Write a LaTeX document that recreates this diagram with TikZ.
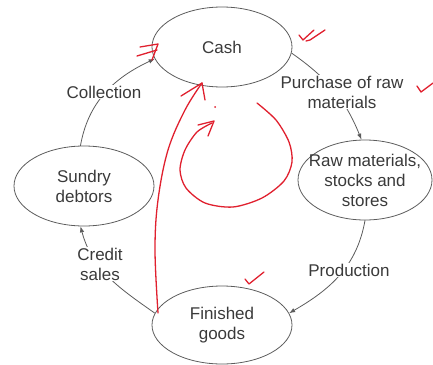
\documentclass[tikz,border=0pt]{standalone}
\usepackage{fontspec}
\setmainfont{Liberation Sans}
\usetikzlibrary{arrows.meta,shapes.geometric}
\definecolor{wcInk}{HTML}{3A3A3A}
\definecolor{wcLine}{HTML}{5C5C5C}
\definecolor{wcPen}{HTML}{E0202E}
\tikzset{
  wc diagram/.style={font=\fontsize{17}{20}\selectfont, text=wcInk,
    line cap=round, line join=round},
  wc stage/.style={ellipse, draw=wcLine, line width=0.8pt,
    minimum width=140pt, minimum height=80pt, inner sep=-12pt, align=center},
  wc arrow/.style={-{Latex[length=6pt,width=4.5pt]}, draw=wcLine, line width=0.8pt},
  wc label/.style={fill=white, inner sep=1pt, align=center},
  wc pen/.style={draw=wcPen, line width=1.3pt}
}

\begin{document}
\begin{tikzpicture}[wc diagram,x=1pt,y=1pt]
\useasboundingbox (0,0) rectangle (433,-364);
\node[wc stage] (cash) at (222,-47) {Cash};
\node[wc stage] (debtors) at (84,-186) {Sundry\\debtors};
\node[wc stage,minimum width=134pt] (raw) at (365,-180) {Raw materials,\\stocks and\\stores};
\node[wc stage,minimum height=78pt] (goods) at (222,-325) {Finished\\goods};
\draw[wc arrow] (debtors.95) to[out=80,in=-155] (cash.190);
\draw[wc arrow] (cash.-5) to[out=-35,in=112] (raw.95);
\draw[wc arrow] (raw.south) to[out=-100,in=30] (goods.10);
\draw[wc arrow] (goods.170) to[out=145,in=-75] (debtors.-95);
\node[wc label] (collect) at (104,-92) {Collection};
\node[wc label] (buy) at (342,-92) {Purchase of raw\\materials};
\node[wc label] (make) at (349,-270) {Production};
\node[wc label] (sell) at (100,-264) {Credit\\sales};
% pen marks
\draw[wc pen] plot[smooth,tension=.6] coordinates {(158,-313) (155,-250) (158,-200) (168,-150) (185,-110) (202,-83)};
\draw[wc pen] (181,-96) -- (202,-83) -- (205,-100);
\draw[wc pen] plot[smooth] coordinates {(257,-103) (276,-120) (289,-142) (292,-162) (284,-181) (262,-198) (233,-207) (205,-203) (186,-188) (180,-170) (185,-150) (197,-132) (212,-123)};
\draw[wc pen] (198,-125) -- (214,-121) -- (208,-136);
\fill[wcPen] (215,-107) circle (1pt);
\draw[wc pen] (140,-47) -- (158,-44) -- (152,-60);
\draw[wc pen] (137,-56) -- (157,-50);
\draw[wc pen] (299,-35) -- (303,-40) -- (314,-30);
\draw[wc pen] (306,-41) -- (310,-40) -- (325,-30);
\draw[wc pen] (417,-86) -- (421,-92) -- (433,-83);
\draw[wc pen] (245,-279) -- (249,-284) -- (264,-272);
\end{tikzpicture}
\end{document}
